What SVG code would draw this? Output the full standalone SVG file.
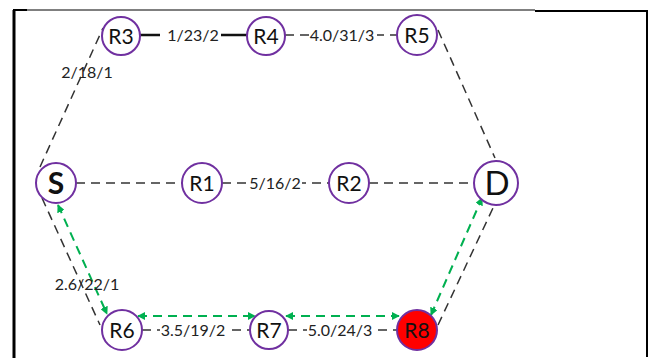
<svg xmlns="http://www.w3.org/2000/svg" width="649" height="358" viewBox="0 0 649 358">
<style>
.node{fill:#fff;stroke:#7030A0;stroke-width:2}
.lbl{font-family:Lato,"Liberation Sans",sans-serif;font-size:21px;fill:#111;text-anchor:middle}
.el{font-family:Lato,"Liberation Sans",sans-serif;font-size:16px;fill:#222;text-anchor:middle}
.d{stroke:#333;stroke-width:1.5;stroke-dasharray:9 6;fill:none}
.s{stroke:#111;stroke-width:2.5;fill:none}
.g{stroke:#00B050;stroke-width:2;stroke-dasharray:9 6;fill:none;marker-start:url(#ga);marker-end:url(#ga)}
.bg{fill:#fff}
</style>
<defs>
<marker id="ga" viewBox="0 0 10 10" refX="9" refY="5" markerWidth="4" markerHeight="4" orient="auto-start-reverse" markerUnits="strokeWidth">
<path d="M0,0 L10,5 L0,10 z" fill="#00B050"/>
</marker>
</defs>
<rect width="649" height="358" fill="#fff"/>
<g id="frame" fill="none" stroke="#000">
<line x1="14" y1="10" x2="14" y2="358" stroke-width="3"/>
<line x1="13" y1="10" x2="27" y2="10" stroke-width="2"/>
<line x1="27" y1="10" x2="535" y2="10" stroke-width="1"/>
<line x1="535" y1="11" x2="648" y2="11" stroke-width="2"/>
<line x1="647" y1="10" x2="647" y2="357" stroke-width="2"/>
</g>
<g id="connectors">
<line class="d" x1="40" y1="167" x2="103" y2="28"/>
<line class="s" x1="140" y1="35" x2="247" y2="35"/>
<line class="d" x1="285" y1="35" x2="397" y2="35"/>
<line class="d" x1="438" y1="30" x2="495" y2="158"/>
<line class="d" x1="76" y1="183" x2="182" y2="183"/>
<line class="d" x1="222" y1="183" x2="329" y2="183"/>
<line class="d" x1="369" y1="183" x2="474" y2="183"/>
<line class="d" x1="42" y1="198" x2="100" y2="325"/>
<line class="d" x1="142" y1="330" x2="250" y2="330"/>
<line class="d" x1="288" y1="330" x2="397" y2="330"/>
<line class="d" x1="438" y1="325" x2="493" y2="208"/>
<line class="g" x1="58" y1="205" x2="107" y2="314"/>
<line class="g" x1="138" y1="316" x2="255" y2="316"/>
<line class="g" x1="286" y1="316" x2="399" y2="316"/>
<line class="g" x1="431" y1="315" x2="482" y2="198"/>
<rect class="bg" x="160" y="25" width="61" height="20"/>
<text class="el" x="193" y="41">1/23/2</text>
<rect class="bg" x="309" y="25" width="68" height="20"/>
<text class="el" x="342" y="41">4.0/31/3</text>
<text class="el" x="87" y="78">2/18/1</text>
<rect class="bg" x="248" y="173" width="54" height="20"/>
<text class="el" x="275" y="189">5/16/2</text>
<text class="el" x="87" y="290">2.6/22/1</text>
<rect class="bg" x="160" y="320" width="66" height="20"/>
<text class="el" x="193" y="336">3.5/19/2</text>
<rect class="bg" x="307" y="320" width="66" height="20"/>
<text class="el" x="340" y="336">5.0/24/3</text>
</g>
<g id="R3"><circle class="node" cx="121" cy="36" r="19"/><text class="lbl" x="121" y="43.5">R3</text></g>
<g id="R4"><circle class="node" cx="266" cy="36" r="19"/><text class="lbl" x="266" y="43.5">R4</text></g>
<g id="R5"><circle class="node" cx="417" cy="35" r="20"/><text class="lbl" x="417" y="42.5">R5</text></g>
<g id="S"><circle class="node" cx="56" cy="183" r="20"/><text class="lbl" x="56" y="194" style="font-size:30px;font-weight:bold">S</text></g>
<g id="R1"><circle class="node" cx="202" cy="183" r="20"/><text class="lbl" x="202" y="190.5">R1</text></g>
<g id="R2"><circle class="node" cx="349" cy="183" r="20"/><text class="lbl" x="349" y="190.5">R2</text></g>
<g id="D"><circle class="node" cx="496" cy="183" r="22"/><text class="lbl" x="497" y="195" style="font-size:33px">D</text></g>
<g id="R6"><circle class="node" cx="122" cy="330" r="20"/><text class="lbl" x="122" y="337.5">R6</text></g>
<g id="R7"><circle class="node" cx="269" cy="330" r="19"/><text class="lbl" x="269" y="337.5">R7</text></g>
<g id="R8"><circle class="node" cx="417" cy="330" r="20" style="fill:#FF0000"/><text class="lbl" x="417" y="337.5">R8</text></g>
</svg>
